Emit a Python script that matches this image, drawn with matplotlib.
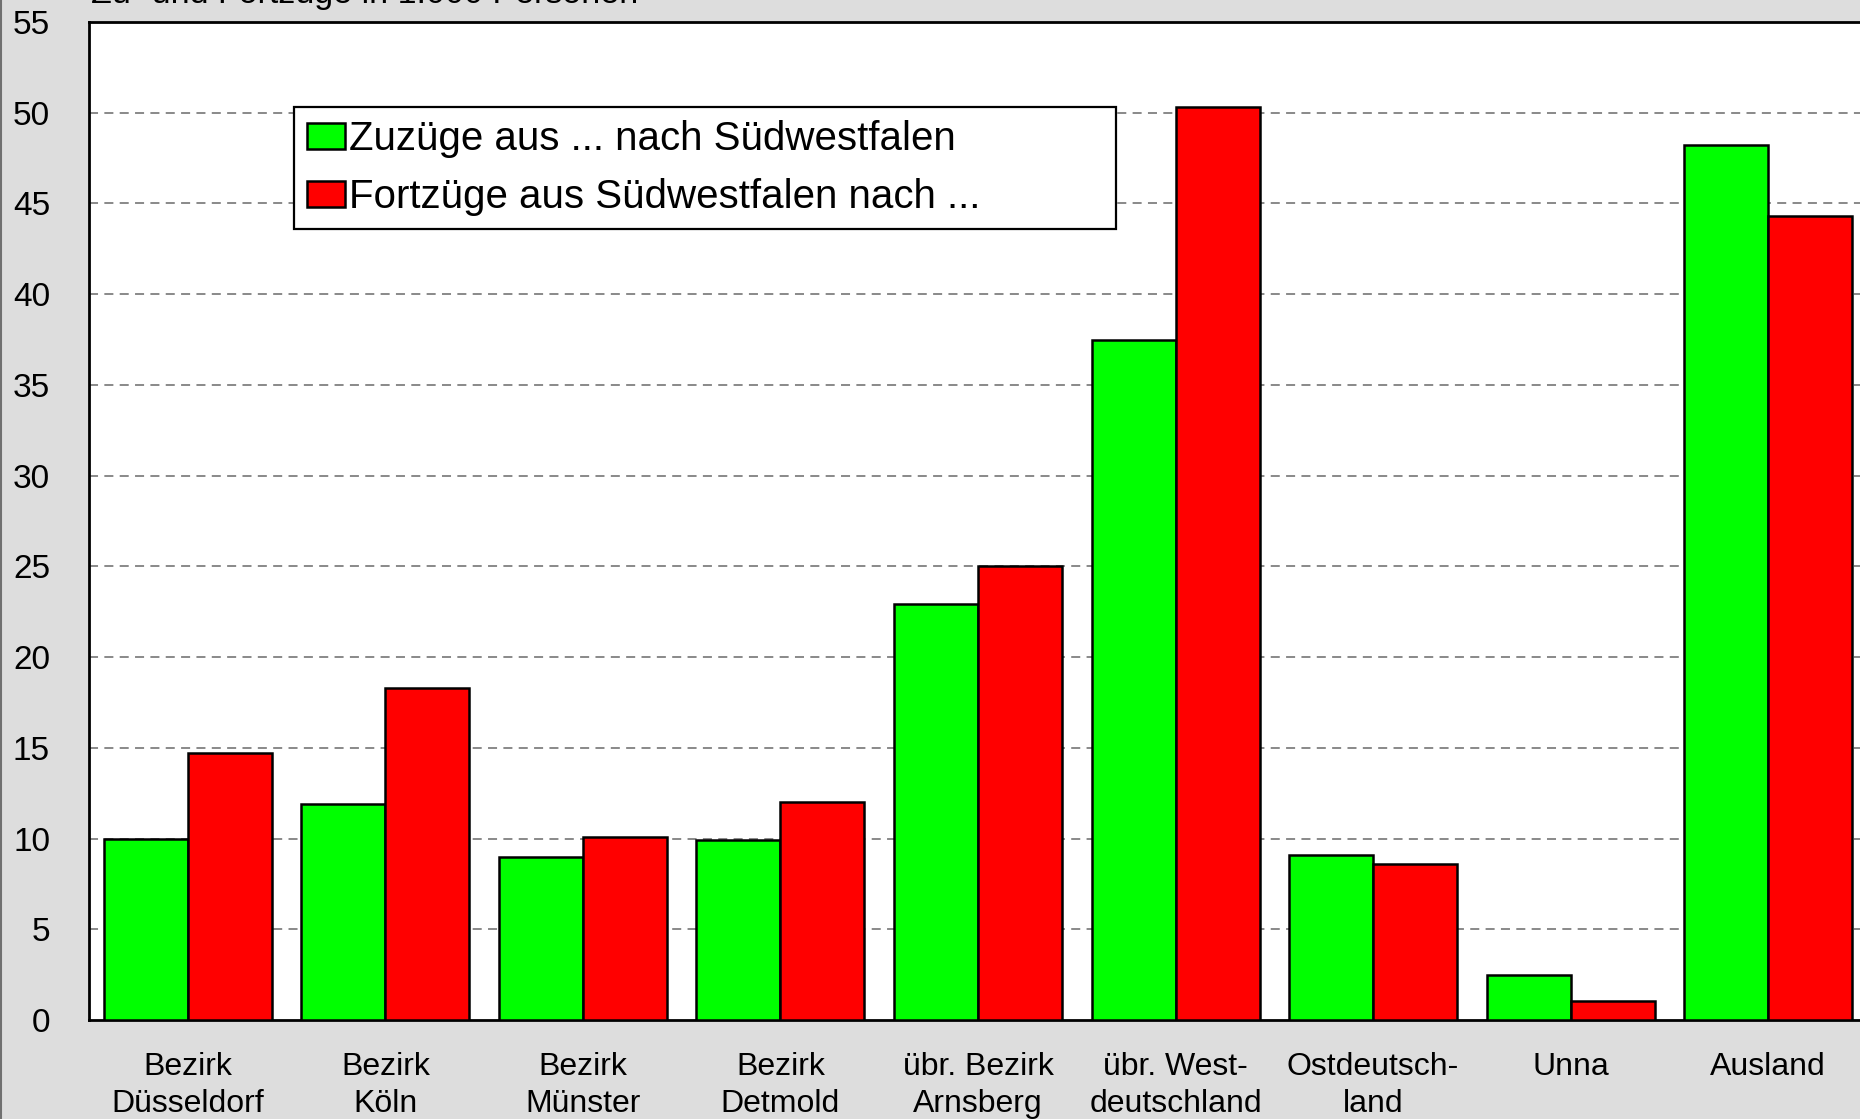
import matplotlib
matplotlib.use('Agg')
import matplotlib.pyplot as plt
from matplotlib.lines import Line2D
import numpy as np

plt.rcParams['font.family'] = ['Liberation Sans', 'DejaVu Sans']

# Zu- und Fortzuege Suedwestfalen, in 1.000 Personen
regionen = ['Bezirk\nDüsseldorf', 'Bezirk\nKöln', 'Bezirk\nMünster', 'Bezirk\nDetmold',
            'übr. Bezirk\nArnsberg', 'übr. West-\ndeutschland', 'Ostdeutsch-\nland',
            'Unna', 'Ausland']
zuzuege = [10.0, 11.9, 9.0, 9.9, 22.9, 37.5, 9.1, 2.5, 48.2]
fortzuege = [14.7, 18.3, 10.1, 12.0, 25.0, 50.3, 8.6, 1.05, 44.3]
yticks = list(range(0, 56, 5))

W, H = 1860, 1119
fig = plt.figure(figsize=(W / 100, H / 100), dpi=100, facecolor='#dddddd')

# axes reicht rechts etwas ueber den Bildrand hinaus (wie im Original abgeschnitten)
left, right, top, bottom = 89, 1867, 22, 1020
ax = fig.add_axes([left / W, 1 - bottom / H, (right - left) / W, (bottom - top) / H])
ax.set_facecolor('white')

x = np.arange(len(regionen))
bw = 0.425
ax.bar(x - bw / 2, zuzuege, bw, color='#00ff00', edgecolor='black', linewidth=1.8,
       label='Zuzüge aus ... nach Südwestfalen', zorder=3)
ax.bar(x + bw / 2, fortzuege, bw, color='#ff0000', edgecolor='black', linewidth=1.8,
       label='Fortzüge aus Südwestfalen nach ...', zorder=3)

ax.set_xlim(-0.5, len(regionen) - 0.5)
ax.set_ylim(0, 55)
ax.set_yticks(yticks)
ax.set_yticklabels([str(t) for t in yticks], fontsize=24)
ax.set_xticks(x)
ax.set_xticklabels(regionen, fontsize=23, linespacing=1.32)
ax.tick_params(axis='y', length=0, pad=28)
ax.tick_params(axis='x', length=0, pad=23)

for t in yticks[1:-1]:
    ax.axhline(t, color='#808080', linewidth=1.3, linestyle=(0, (5, 3.5)), zorder=1)

for s in ['top', 'left', 'bottom', 'right']:
    ax.spines[s].set_linewidth(2)
    ax.spines[s].set_color('black')

leg = ax.legend(loc='upper left', bbox_to_anchor=(0.1153, 0.9148 - 0.2, 0.4623, 0.2),
                mode='expand', fontsize=29, frameon=True, fancybox=False,
                edgecolor='black', framealpha=1, borderpad=0.32, borderaxespad=0,
                handlelength=0.95, handleheight=0.62, handletextpad=0.1,
                labelspacing=0.5)
leg.get_frame().set_linewidth(1.6)
leg.set_zorder(5)

fig.text(91 / W, 1 - 3 / H, 'Zu- und Fortzüge in 1.000 Personen', fontsize=24.5,
         va='baseline', ha='left')

fig.add_artist(Line2D([0.0008, 0.0008], [0, 1], transform=fig.transFigure,
                      color='#707070', linewidth=1.5))

fig.savefig('out.png', dpi=100, facecolor=fig.get_facecolor())
